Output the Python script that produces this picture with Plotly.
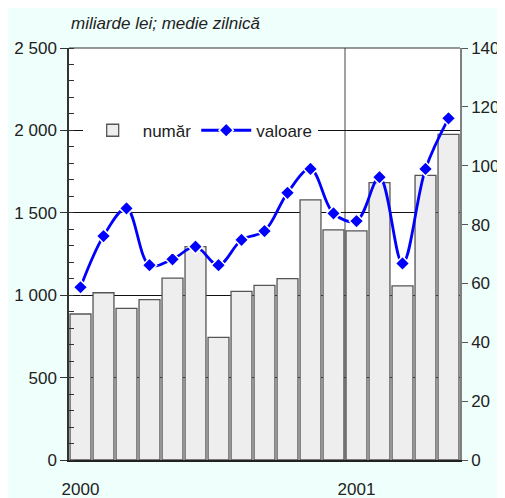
import plotly.graph_objects as go

months = list(range(17))
numar = [886, 1015, 920, 973, 1104, 1295, 744, 1023, 1060, 1100, 1578, 1396, 1390, 1683, 1056, 1727, 1976]
valoare = [58.7, 76.1, 85.5, 66.2, 68.2, 72.5, 66.2, 74.8, 77.8, 90.8, 98.9, 83.8, 81.2, 96.1, 66.8, 98.9, 116.1]
year_ticks = [0, 12]
year_labels = ["2000", "2001"]
left_ticks = [0, 500, 1000, 1500, 2000, 2500]
left_labels = ["0", "500", "1 000", "1 500", "2 000", "2 500"]
right_ticks = [0, 20, 40, 60, 80, 100, 120, 140]
right_labels = ["0", "20", "40", "60", "80", "100", "120", "140"]

font = "Liberation Sans, Arial, sans-serif"

fig = go.Figure()
fig.add_trace(go.Bar(
    x=months, y=numar, name="număr",
    marker=dict(color="#eeeeee", line=dict(color="#555555", width=1.3)),
    yaxis="y",
))
fig.add_trace(go.Scatter(
    x=months, y=valoare, name="valoare", mode="lines+markers",
    line=dict(color="#0000ff", width=2.8, shape="spline", smoothing=1.0),
    marker=dict(symbol="diamond", size=11, color="#0000ff", line=dict(color="white", width=1.5)),
    yaxis="y2",
))

fig.add_shape(type="line", xref="x", yref="paper", x0=11.5, x1=11.5, y0=0, y1=1,
              line=dict(color="#444444", width=1), layer="below")

fig.update_layout(
    template="none",
    width=505, height=498,
    margin=dict(l=61, r=53, t=40, b=46, pad=0),
    paper_bgcolor="#effffc", plot_bgcolor="white",
    bargap=0.09,
    font=dict(family=font, size=17, color="#222222"),
    showlegend=True,
    legend=dict(orientation="h", x=0.035, y=0.843, xanchor="left", yanchor="top",
                bgcolor="white", font=dict(size=17), tracegroupgap=0, itemwidth=50,
                borderwidth=0),
    xaxis=dict(range=[-0.5, 16.5], tickvals=year_ticks, ticktext=year_labels, automargin=False,
               showgrid=False, zeroline=False, showline=True, linecolor="#222222", linewidth=1.5,
               ticks="", ticklabelstandoff=13, tickfont=dict(size=17), mirror=False),
    yaxis=dict(range=[0, 2500], tickvals=left_ticks, ticktext=left_labels, automargin=False,
               showgrid=True, gridcolor="#111111", gridwidth=1,
               zeroline=False, showline=True, linecolor="#333333", linewidth=1.5,
               ticks="outside", ticklen=7, tickcolor="#333333", tickwidth=1.2,
               minor=dict(dtick=100, ticks="inside", ticklen=5, tickcolor="#333333", showgrid=False),
               tickfont=dict(size=17)),
    yaxis2=dict(range=[0, 140], overlaying="y", side="right", tickvals=right_ticks, ticktext=right_labels,
                automargin=False,
                showgrid=False, zeroline=False, showline=True, linecolor="#808080", linewidth=1.5,
                ticks="outside", ticklen=6, tickcolor="#555555", tickfont=dict(size=17)),
    annotations=[dict(text="<i>miliarde lei; medie zilnică</i>", xref="paper", yref="paper",
                      x=0.0, y=1.0, xanchor="left", yanchor="bottom", yshift=13, showarrow=False,
                      font=dict(size=17, color="#222222"))],
)
fig.add_shape(type="line", xref="paper", yref="paper", x0=0, x1=1, y0=1, y1=1,
              line=dict(color="#333333", width=1.2))

fig.write_html("out.html")
